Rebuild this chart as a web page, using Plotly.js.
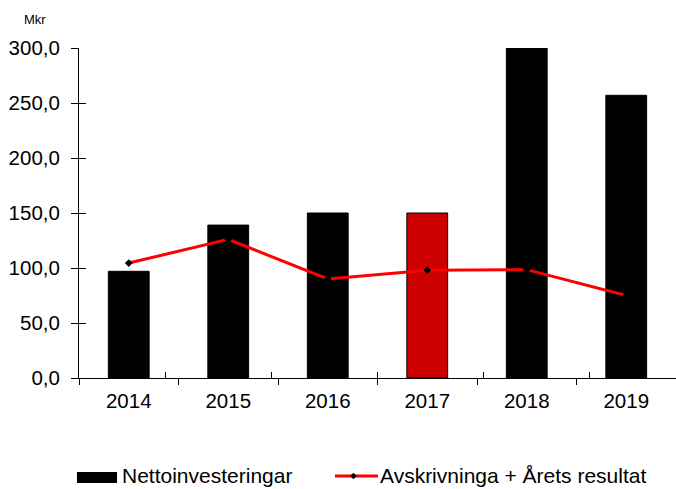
<!DOCTYPE html>
<html>
<head>
<meta charset="utf-8">
<script src="https://cdn.plot.ly/plotly-3.0.1.min.js"></script>
<style>html,body{margin:0;padding:0;background:#fff}#chart{width:676px;height:489px}</style>
</head>
<body>
<div id="chart"></div>
<script>
const years = ['2014', '2015', '2016', '2017', '2018', '2019'];
const nettoinvesteringar = [97, 139, 150, 150, 300, 257];
const avskrivningar = [104.5, 126, 90, 98, 98.5, 75];
const barColors = ['#000000', '#000000', '#000000', '#CC0000', '#000000', '#000000'];
const seriesNames = ['Nettoinvesteringar', 'Avskrivninga + Årets resultat'];
const unitLabel = 'Mkr';

const font = 'Liberation Sans, Arial, sans-serif';

const traces = [
  {
    type: 'bar', name: seriesNames[0], x: years, y: nettoinvesteringar,
    marker: {color: barColors, line: {color: '#000000', width: 1}},
    hoverinfo: 'x+y'
  },
  {
    type: 'scatter', mode: 'lines+markers', name: seriesNames[1], x: years, y: avskrivningar,
    line: {color: '#FF0000', width: 3},
    marker: {color: '#000000', symbol: 'diamond', size: 6}
  },
  {
    type: 'scatter', x: years, y: years.map(() => null), xaxis: 'x2', yaxis: 'y2',
    showlegend: false, hoverinfo: 'skip'
  }
];

// legend drawn below the plot
const legShift = 0.0121;
const legY = -0.309 + legShift;
const shapes = [
  {type: 'rect', xref: 'paper', yref: 'paper', x0: -0.0034, x1: 0.0637,
   y0: -0.3303 + legShift, y1: -0.297 + legShift,
   fillcolor: '#000000', line: {width: 0}},
  {type: 'line', xref: 'paper', yref: 'paper', x0: 0.4288, x1: 0.5008, y0: legY, y1: legY,
   line: {color: '#FF0000', width: 3}},
  {type: 'path', xref: 'paper', yref: 'paper',
   path: 'M 0.4598 ' + (legY + 0.0091) + ' L 0.4648 ' + legY + ' L 0.4598 ' + (legY - 0.0091) + ' L 0.4548 ' + legY + ' Z',
   fillcolor: '#000000', line: {color: '#000000', width: 0.5}}
];

const layout = {
  width: 676, height: 489,
  margin: {l: 79, r: 0, t: 48, b: 111},
  paper_bgcolor: '#ffffff', plot_bgcolor: '#ffffff',
  font: {family: font, color: '#000000', size: 20},
  separators: ', ',
  bargap: 0.59,
  showlegend: false,
  xaxis: {
    type: 'category', tickson: 'boundaries', ticks: 'outside', ticklen: 6,
    tickcolor: '#000000', showline: true, linecolor: '#000000', linewidth: 1,
    showgrid: false, zeroline: false, ticklabelstandoff: 4,
    tickfont: {family: font, size: 20.5, color: '#000000'}
  },
  yaxis: {
    range: [0, 300], dtick: 50, tickformat: '.1f', ticks: 'outside', ticklen: 7,
    tickcolor: '#000000', showline: true, linecolor: '#000000', linewidth: 1,
    showgrid: false, zeroline: false, ticklabelstandoff: 7,
    tickfont: {family: font, size: 20.5, color: '#000000'}
  },
  xaxis2: {
    type: 'category', overlaying: 'x', anchor: 'y2', tickson: 'boundaries',
    ticks: 'inside', ticklen: 6, tickcolor: '#000000', showticklabels: false,
    showline: false, showgrid: false, zeroline: false
  },
  yaxis2: {
    overlaying: 'y', anchor: 'x2', side: 'left', range: [0, 300], dtick: 50,
    ticks: 'inside', ticklen: 7, tickcolor: '#000000', showticklabels: false,
    showline: false, showgrid: false, zeroline: false
  },
  shapes: shapes,
  annotations: [
    {text: unitLabel, xref: 'paper', yref: 'paper', x: -0.096, y: 1.085,
     xanchor: 'left', yanchor: 'middle', showarrow: false,
     font: {family: font, size: 13, color: '#000000'}},
    {text: seriesNames[0], xref: 'paper', yref: 'paper', x: 0.0682, y: -0.2667 + legShift,
     xanchor: 'left', yanchor: 'top', showarrow: false,
     font: {family: font, size: 21, color: '#000000'}},
    {text: seriesNames[1], xref: 'paper', yref: 'paper', x: 0.5008, y: -0.2667 + legShift,
     xanchor: 'left', yanchor: 'top', showarrow: false,
     font: {family: font, size: 21, color: '#000000'}}
  ]
};

Plotly.newPlot('chart', traces, layout, {displayModeBar: false, staticPlot: true});
</script>
</body>
</html>
